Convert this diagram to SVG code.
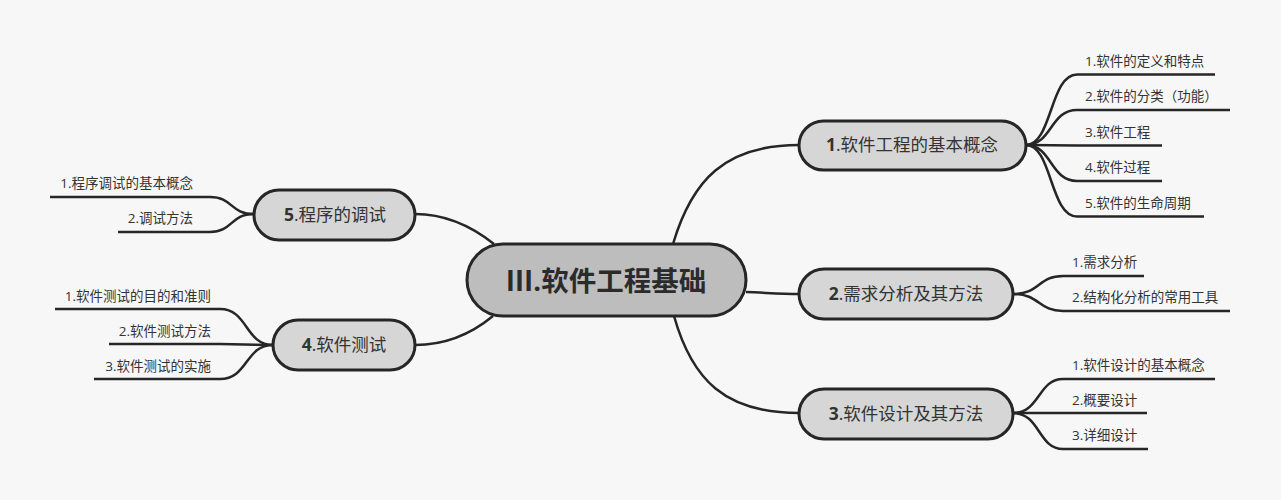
<svg xmlns="http://www.w3.org/2000/svg" width="1281" height="500" viewBox="0 0 1281 500">
<style>
.bg{fill:#f7f7f7}
.central{fill:#bdbdbd;stroke:#262626;stroke-width:3}
.topic{fill:#d6d6d6;stroke:#262626;stroke-width:3}
.conn{fill:none;stroke:#262626;stroke-width:2.5}
.under{fill:none;stroke:#262626;stroke-width:2.5}
text{font-family:"Open Sans","Noto Sans CJK SC",sans-serif;fill:#333}
.ct{font-size:27.5px;font-weight:bold;fill:#2b2b2b;text-anchor:middle}
.tt{font-size:17.5px;text-anchor:middle}
.st{font-size:13.5px}
.stl{font-size:13.5px;text-anchor:end}
.b{font-weight:bold}
</style>
<rect class="bg" x="0" y="0" width="1281" height="500"/>
<g id="connectors">
<path class="conn" d="M673,244 C692,180 725,145 799,145"/>
<path class="conn" d="M746,292 C770,293 780,294 799,294"/>
<path class="conn" d="M674,316 C692,380 725,413 799,413"/>
<path class="conn" d="M494,244 C470,225 445,214 415,214"/>
<path class="conn" d="M493,316 C470,335 445,345 415,345"/>
<path class="conn" d="M1026,145 C1052,145 1050,74.5 1077,74.5"/>
<path class="conn" d="M1026,145 C1052,145 1050,110 1077,110"/>
<path class="conn" d="M1026,145 L1077,145.5"/>
<path class="conn" d="M1026,145 C1052,145 1050,181 1077,181"/>
<path class="conn" d="M1026,145 C1052,145 1050,216.5 1077,216.5"/>
<path class="conn" d="M1013,294 C1040,294 1038,276 1063,276"/>
<path class="conn" d="M1013,294 C1040,294 1038,311 1063,311"/>
<path class="conn" d="M1013,413 C1040,413 1038,379 1063,379"/>
<path class="conn" d="M1013,413 L1063,413"/>
<path class="conn" d="M1013,413 C1040,413 1038,449 1063,449"/>
<path class="conn" d="M254,214 C230,214 233,197 210,197"/>
<path class="conn" d="M254,214 C230,214 233,232 210,232"/>
<path class="conn" d="M273,345 C245,345 248,309 220,309"/>
<path class="conn" d="M273,345 L220,344"/>
<path class="conn" d="M273,345 C245,345 248,379 220,379"/>
</g>
<g id="central">
<rect class="central" x="467" y="244" width="279" height="72" rx="36"/>
<text class="ct" x="606" y="291">Ⅲ.软件工程基础</text>
</g>
<g id="topic1">
<rect class="topic" x="799" y="121" width="227" height="49" rx="24.5"/>
<text class="tt" x="912" y="151"><tspan class="b">1</tspan>.软件工程的基本概念</text>
</g>
<g id="topic2">
<rect class="topic" x="799" y="269" width="214" height="50" rx="25"/>
<text class="tt" x="906" y="300"><tspan class="b">2</tspan>.需求分析及其方法</text>
</g>
<g id="topic3">
<rect class="topic" x="799" y="389" width="214" height="50" rx="25"/>
<text class="tt" x="906" y="420"><tspan class="b">3</tspan>.软件设计及其方法</text>
</g>
<g id="topic5">
<rect class="topic" x="254" y="190" width="161" height="50" rx="25"/>
<text class="tt" x="335" y="221"><tspan class="b">5</tspan>.程序的调试</text>
</g>
<g id="topic4">
<rect class="topic" x="273" y="320" width="142" height="50" rx="25"/>
<text class="tt" x="344" y="351"><tspan class="b">4</tspan>.软件测试</text>
</g>
<g id="sub1-1"><path class="under" d="M1077,74.5 H1215"/><text class="st" x="1085" y="66">1.软件的定义和特点</text></g>
<g id="sub1-2"><path class="under" d="M1077,110 H1230"/><text class="st" x="1085" y="101">2.软件的分类（功能）</text></g>
<g id="sub1-3"><path class="under" d="M1077,145.5 H1162"/><text class="st" x="1085" y="137">3.软件工程</text></g>
<g id="sub1-4"><path class="under" d="M1077,181 H1162"/><text class="st" x="1085" y="172">4.软件过程</text></g>
<g id="sub1-5"><path class="under" d="M1077,216.5 H1204"/><text class="st" x="1085" y="208">5.软件的生命周期</text></g>
<g id="sub2-1"><path class="under" d="M1063,276 H1144"/><text class="st" x="1072" y="267">1.需求分析</text></g>
<g id="sub2-2"><path class="under" d="M1063,311 H1230"/><text class="st" x="1072" y="302">2.结构化分析的常用工具</text></g>
<g id="sub3-1"><path class="under" d="M1063,379 H1215"/><text class="st" x="1072" y="370">1.软件设计的基本概念</text></g>
<g id="sub3-2"><path class="under" d="M1063,413 H1147"/><text class="st" x="1072" y="405">2.概要设计</text></g>
<g id="sub3-3"><path class="under" d="M1063,449 H1148"/><text class="st" x="1072" y="440">3.详细设计</text></g>
<g id="sub5-1"><path class="under" d="M50,197 H210"/><text class="stl" x="193" y="188">1.程序调试的基本概念</text></g>
<g id="sub5-2"><path class="under" d="M118,232 H210"/><text class="stl" x="193" y="223">2.调试方法</text></g>
<g id="sub4-1"><path class="under" d="M55,309 H220"/><text class="stl" x="211" y="301">1.软件测试的目的和准则</text></g>
<g id="sub4-2"><path class="under" d="M109,344 H220"/><text class="stl" x="211" y="336">2.软件测试方法</text></g>
<g id="sub4-3"><path class="under" d="M94,379 H220"/><text class="stl" x="211" y="371">3.软件测试的实施</text></g>
</svg>
